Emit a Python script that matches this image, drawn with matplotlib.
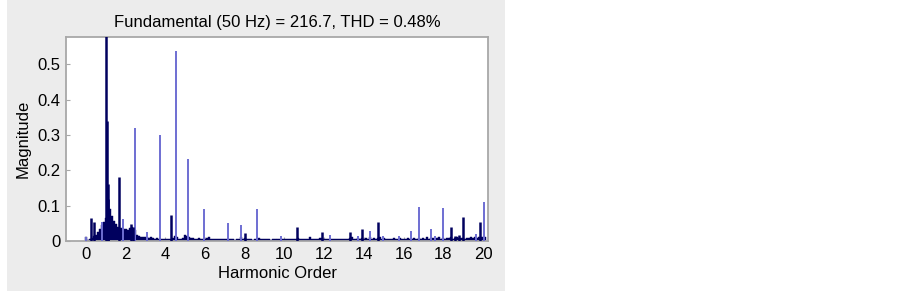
import matplotlib
matplotlib.use('Agg')
import matplotlib.pyplot as plt
import numpy as np
from matplotlib.patches import Rectangle

# noise floor of the spectrum, one value per 0.1 harmonic (0.0 .. 20.1)
floor_step = 0.1
floor_vals = [
    0.010, 0.004, 0.006, 0.009, 0.014, 0.018, 0.025, 0.034, 0.044, 0.054,  # 0
    0.065, 0.115, 0.090, 0.070, 0.056, 0.048, 0.040, 0.036, 0.038, 0.035,  # 1
    0.033, 0.030, 0.036, 0.040, 0.034, 0.030, 0.018, 0.015, 0.012, 0.011,  # 2
    0.010, 0.010, 0.009, 0.011, 0.008, 0.007, 0.008, 0.006, 0.007, 0.006,  # 3
    0.006, 0.005, 0.007, 0.006, 0.008, 0.014, 0.010, 0.007, 0.006, 0.008,  # 4
    0.016, 0.014, 0.012, 0.009, 0.008, 0.007, 0.006, 0.008, 0.007, 0.006,  # 5
    0.006, 0.008, 0.010, 0.007, 0.006, 0.005, 0.007, 0.006, 0.005, 0.006,  # 6
    0.005, 0.006, 0.007, 0.006, 0.005, 0.004, 0.006, 0.005, 0.010, 0.006,  # 7
    0.008, 0.007, 0.006, 0.005, 0.004, 0.006, 0.005, 0.009, 0.006, 0.005,  # 8
    0.005, 0.006, 0.005, 0.004, 0.006, 0.005, 0.006, 0.007, 0.005, 0.006,  # 9
    0.007, 0.006, 0.005, 0.007, 0.006, 0.005, 0.006, 0.008, 0.006, 0.005,  # 10
    0.006, 0.005, 0.007, 0.010, 0.006, 0.005, 0.006, 0.005, 0.008, 0.009,  # 11
    0.006, 0.005, 0.007, 0.006, 0.005, 0.006, 0.007, 0.005, 0.006, 0.007,  # 12
    0.006, 0.007, 0.006, 0.008, 0.010, 0.006, 0.007, 0.008, 0.006, 0.009,  # 13
    0.007, 0.008, 0.006, 0.010, 0.007, 0.008, 0.006, 0.008, 0.010, 0.007,  # 14
    0.008, 0.006, 0.007, 0.005, 0.006, 0.008, 0.007, 0.006, 0.008, 0.007,  # 15
    0.006, 0.007, 0.008, 0.006, 0.007, 0.009, 0.006, 0.007, 0.008, 0.007,  # 16
    0.008, 0.007, 0.010, 0.007, 0.008, 0.009, 0.007, 0.008, 0.010, 0.007,  # 17
    0.008, 0.007, 0.009, 0.008, 0.012, 0.007, 0.008, 0.010, 0.008, 0.009,  # 18
    0.008, 0.007, 0.009, 0.008, 0.010, 0.009, 0.011, 0.008, 0.012, 0.010,  # 19
    0.011, 0.010,                                                          # 20
]

# dark (main) spectral peaks
dark_pos = [0.24, 0.40, 1.00, 1.04, 1.09, 1.14, 1.66, 2.25, 2.36, 4.30, 8.01,
            10.65, 11.87, 13.30, 13.92, 14.73, 18.40, 18.60, 18.80, 19.00, 19.83]
dark_mag = [0.066, 0.054, 0.600, 0.340, 0.160, 0.120, 0.180, 0.048, 0.040, 0.073, 0.024,
            0.041, 0.026, 0.026, 0.035, 0.053, 0.041, 0.015, 0.017, 0.069, 0.053]

# lighter interharmonic lines
light_pos = [0.00, 0.80, 1.88, 2.47, 3.10, 3.71, 4.52, 5.12, 5.94, 7.17, 7.79,
             8.60, 9.82, 12.29, 13.70, 14.31, 14.95, 15.75, 16.36, 16.78, 17.38,
             17.58, 18.00, 19.63, 20.03]
light_mag = [0.012, 0.055, 0.063, 0.320, 0.025, 0.299, 0.538, 0.232, 0.091, 0.052, 0.045,
             0.091, 0.015, 0.016, 0.015, 0.028, 0.015, 0.015, 0.027, 0.097, 0.033,
             0.015, 0.092, 0.020, 0.109]

title = 'Fundamental (50 Hz) = 216.7, THD = 0.48%'

plt.rcParams['font.family'] = ['Liberation Sans', 'DejaVu Sans']

fig = plt.figure(figsize=(9.03, 2.95), dpi=100, facecolor='white')
# gray figure panel on the left, behind the axes
panel = Rectangle((7 / 903, 4 / 295), 498 / 903, 291 / 295,
                  transform=fig.transFigure, facecolor='#ececec',
                  edgecolor='none', zorder=-10)
fig.add_artist(panel)

ax = fig.add_axes([66 / 903, 54 / 295, 422 / 903, 204 / 295])
ax.set_zorder(1)
ax.set_facecolor('white')

navy = '#00005e'
light = '#6e6ed2'

floor_x = np.arange(len(floor_vals)) * floor_step
ax.bar(floor_x, floor_vals, width=floor_step, color=navy, edgecolor=navy,
       linewidth=0.3, align='center', zorder=2)
ax.vlines(light_pos, 0, light_mag, colors=light, linewidth=1.4, zorder=3)
ax.vlines(dark_pos, 0, dark_mag, colors=navy, linewidth=1.8, zorder=4)

ax.set_xlim(-1.0, 20.25)
ax.set_ylim(0, 0.577)
ax.set_xticks(np.arange(0, 21, 2))
ax.set_yticks([0, 0.1, 0.2, 0.3, 0.4, 0.5])
ax.set_yticklabels(['0', '0.1', '0.2', '0.3', '0.4', '0.5'])

for s in ax.spines.values():
    s.set_color('#a8a8a8')
    s.set_linewidth(1.3)
ax.tick_params(direction='in', length=3, width=0.8, color='#a8a8a8',
               labelsize=12, labelcolor='black', pad=4)

ax.set_title(title, fontsize=12, pad=7)
ax.set_xlabel('Harmonic Order', fontsize=12, labelpad=3)
ax.set_ylabel('Magnitude', fontsize=12, labelpad=5)

plt.savefig('out.png', dpi=100)
plt.close()
